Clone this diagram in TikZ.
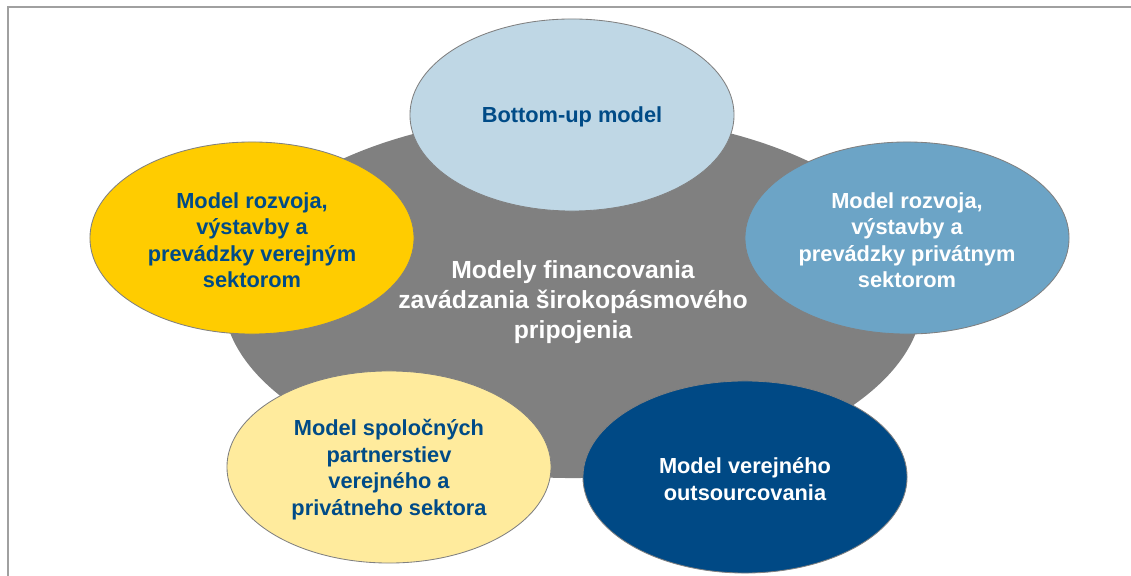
\documentclass[tikz,border=0pt]{standalone}
\usepackage{fontspec}
\setmainfont{Liberation Sans}
\usetikzlibrary{shapes.geometric}
\definecolor{txtblue}{RGB}{0,75,135}
\definecolor{darkblue}{RGB}{0,73,133}
\definecolor{lightblue}{RGB}{191,215,229}
\definecolor{midblue}{RGB}{108,164,198}
\definecolor{gold}{RGB}{255,204,0}
\definecolor{paleyellow}{RGB}{255,235,157}
\definecolor{midgray}{RGB}{128,128,128}
\definecolor{framegray}{RGB}{160,160,160}
\tikzset{
  bubble/.style={ellipse, draw=midgray, line width=0.6pt, inner sep=0pt,
    minimum width=8.1cm, minimum height=4.8cm},
  core/.style={ellipse, fill=midgray, inner sep=0pt,
    minimum width=17.5cm, minimum height=9.1cm},
  btext/.style={align=center, inner sep=0pt,
    font=\fontsize{15.5}{18.8}\selectfont\bfseries},
  ctext/.style={align=center, inner sep=0pt, text=white,
    font=\fontsize{17.6}{21.3}\selectfont\bfseries},
  frameline/.style={draw=framegray, line width=1.2pt}
}
\begin{document}
\begin{tikzpicture}[x=0.025cm,y=-0.025cm]
\useasboundingbox (0,0) rectangle (1131,576);
\coordinate (fb) at (8,576);
\coordinate (fc) at (8,7);
\coordinate (fr) at (1131,7);
\draw[frameline] (fb) -- (fc) -- (fr);
\node[core] (center) at (573,296) {};
\node[ctext] (centert) at (573,302) {Modely financovania\\zavádzania širokopásmového\\pripojenia};
\node[bubble, fill=lightblue] (top) at (572,115) {};
\node[btext, text=txtblue] (topt) at (572,117) {Bottom-up model};
\node[bubble, fill=gold] (left) at (252,238) {};
\node[btext, text=txtblue] (leftt) at (252,240) {Model rozvoja,\\výstavby a\\prevádzky verejným\\sektorom};
\node[bubble, fill=midblue] (right) at (907,238) {};
\node[btext, text=white] (rightt) at (907,240) {Model rozvoja,\\výstavby a\\prevádzky privátnym\\sektorom};
\node[bubble, fill=paleyellow] (bl) at (389,467) {};
\node[btext, text=txtblue] (blt) at (389,469.5) {Model spoločných\\partnerstiev\\verejného a\\privátneho sektora};
\node[bubble, fill=darkblue] (br) at (745,477) {};
\node[btext, text=white] (brt) at (745,479) {Model verejného\\outsourcovania};
\end{tikzpicture}
\end{document}
